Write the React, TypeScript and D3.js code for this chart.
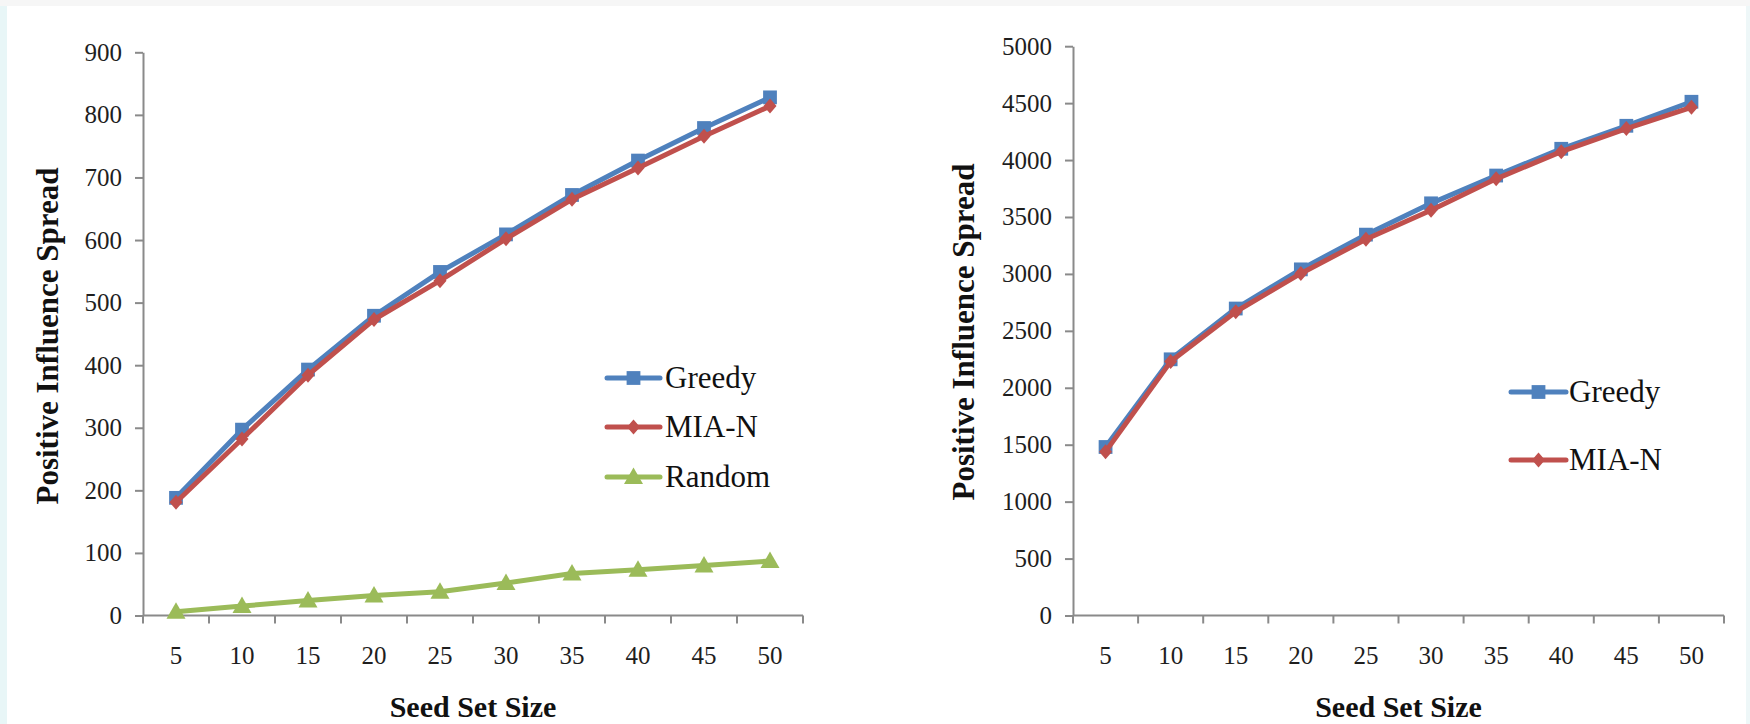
import { useEffect, useRef } from "react";
import * as d3 from "d3";

// seed set sizes (x categories)
const seedSizes = ["5", "10", "15", "20", "25", "30", "35", "40", "45", "50"];

// left panel values
const greedyLeft = [188, 297, 393, 479, 549, 609, 672, 727, 779, 828];
const miaLeft = [181, 282, 384, 473, 535, 602, 665, 715, 766, 814];
const randomLeft = [6, 15, 24, 32, 38, 52, 67, 73, 80, 87];
const leftTicks = [0, 100, 200, 300, 400, 500, 600, 700, 800, 900];

// right panel values
const greedyRight = [1480, 2250, 2696, 3040, 3345, 3620, 3864, 4099, 4301, 4512];
const miaRight = [1439, 2230, 2668, 3004, 3304, 3559, 3835, 4074, 4277, 4463];
const rightTicks = [0, 500, 1000, 1500, 2000, 2500, 3000, 3500, 4000, 4500, 5000];

type Series = { name: string; values: number[]; color: string; marker: "square" | "diamond" | "triangle" };

interface PanelSpec {
  series: Series[];
  ticks: number[];
  xRange: [number, number];
  yRange: [number, number];
  yTitleX: number;
  yTitleY: number;
  legend: { lineX0: number; lineX1: number; textX: number; ys: number[] };
}

const BLUE = "#4f81bd";
const RED = "#c0504d";
const GREEN = "#9bbb59";
const SERIF = "'Liberation Serif', 'Times New Roman', serif";

const panels: PanelSpec[] = [
  {
    series: [
      { name: "Greedy", values: greedyLeft, color: BLUE, marker: "square" },
      { name: "MIA-N", values: miaLeft, color: RED, marker: "diamond" },
      { name: "Random", values: randomLeft, color: GREEN, marker: "triangle" },
    ],
    ticks: leftTicks,
    xRange: [143, 803],
    yRange: [615.5, 52.3],
    yTitleX: 47,
    yTitleY: 336,
    legend: { lineX0: 607, lineX1: 660, textX: 665, ys: [378, 427, 477] },
  },
  {
    series: [
      { name: "Greedy", values: greedyRight, color: BLUE, marker: "square" },
      { name: "MIA-N", values: miaRight, color: RED, marker: "diamond" },
    ],
    ticks: rightTicks,
    xRange: [1073, 1724],
    yRange: [615.5, 46.2],
    yTitleX: 963,
    yTitleY: 332,
    legend: { lineX0: 1511, lineX1: 1566, textX: 1569, ys: [392, 460] },
  },
];

function markerPath(kind: string) {
  if (kind === "square") return d3.symbol(d3.symbolSquare, 190)();
  if (kind === "diamond") return "M0,-7.5L6.5,0L0,7.5L-6.5,0Z";
  return "M0,-9.5L9.5,7L-9.5,7Z";
}

export default function App() {
  const svgRef = useRef<SVGSVGElement>(null);

  useEffect(() => {
    if (!svgRef.current) return;
    const svg = d3.select(svgRef.current);
    svg.selectAll("*").remove();

    // page background bits
    svg.append("rect").attr("width", 1750).attr("height", 724).attr("fill", "#ffffff");
    svg.append("rect").attr("width", 1750).attr("height", 6).attr("fill", "#f6f6f6");
    svg.append("rect").attr("y", 6).attr("width", 7).attr("height", 718).attr("fill", "#e8f6f7");
    svg.append("rect").attr("x", 1746).attr("y", 6).attr("width", 4).attr("height", 718).attr("fill", "#eef7f8");

    panels.forEach((p) => {
      const x = d3.scaleBand().domain(seedSizes).range(p.xRange).padding(0);
      const y = d3
        .scaleLinear()
        .domain([p.ticks[0], p.ticks[p.ticks.length - 1]])
        .range(p.yRange);
      const g = svg.append("g");

      // y axis
      const yAxis = g
        .append("g")
        .attr("transform", `translate(${p.xRange[0]},0)`)
        .call(
          d3
            .axisLeft(y)
            .tickValues(p.ticks)
            .tickFormat(d3.format("d"))
            .tickSize(8)
            .tickPadding(13)
            .tickSizeOuter(0)
        );
      yAxis.select(".domain").attr("stroke", "#8a8a8a").attr("stroke-width", 2);
      yAxis.selectAll(".tick line").attr("stroke", "#8a8a8a").attr("stroke-width", 2);
      yAxis
        .selectAll(".tick text")
        .attr("font-family", SERIF)
        .attr("font-size", 25)
        .attr("fill", "#1e1e1e");

      // x axis: ticks on band boundaries
      const base = y(0);
      g.append("line")
        .attr("x1", p.xRange[0])
        .attr("x2", p.xRange[1])
        .attr("y1", base)
        .attr("y2", base)
        .attr("stroke", "#8a8a8a")
        .attr("stroke-width", 2);
      const bounds = seedSizes.map((c) => x(c)!).concat([p.xRange[1]]);
      g.selectAll(".xt")
        .data(bounds)
        .enter()
        .append("line")
        .attr("x1", (d) => d)
        .attr("x2", (d) => d)
        .attr("y1", base)
        .attr("y2", base + 8)
        .attr("stroke", "#8a8a8a")
        .attr("stroke-width", 2);
      g.selectAll(".xl")
        .data(seedSizes)
        .enter()
        .append("text")
        .attr("x", (d) => x(d)! + x.bandwidth() / 2)
        .attr("y", 655)
        .attr("dy", "0.35em")
        .attr("text-anchor", "middle")
        .attr("font-family", SERIF)
        .attr("font-size", 25)
        .attr("fill", "#1e1e1e")
        .text((d) => d);

      // titles
      g.append("text")
        .attr("x", (p.xRange[0] + p.xRange[1]) / 2)
        .attr("y", 717)
        .attr("text-anchor", "middle")
        .attr("font-family", SERIF)
        .attr("font-weight", "bold")
        .attr("font-size", 30)
        .attr("fill", "#111")
        .text("Seed Set Size");
      g.append("text")
        .attr("transform", `translate(${p.yTitleX},${p.yTitleY}) rotate(-90)`)
        .attr("text-anchor", "middle")
        .attr("dy", "0.35em")
        .attr("font-family", SERIF)
        .attr("font-weight", "bold")
        .attr("font-size", 31)
        .attr("fill", "#111")
        .text("Positive Influence Spread");

      // series
      const line = d3
        .line<number>()
        .x((_, i) => x(seedSizes[i])! + x.bandwidth() / 2)
        .y((d) => y(d));
      p.series.forEach((s) => {
        g.append("path")
          .attr("d", line(s.values))
          .attr("fill", "none")
          .attr("stroke", s.color)
          .attr("stroke-width", 5)
          .attr("stroke-linejoin", "round");
        g.selectAll(null)
          .data(s.values)
          .enter()
          .append("path")
          .attr("d", markerPath(s.marker))
          .attr("transform", (d, i) => `translate(${x(seedSizes[i])! + x.bandwidth() / 2},${y(d)})`)
          .attr("fill", s.color);
      });

      // legend
      p.series.forEach((s, i) => {
        const ly = p.legend.ys[i];
        g.append("line")
          .attr("x1", p.legend.lineX0)
          .attr("x2", p.legend.lineX1)
          .attr("y1", ly)
          .attr("y2", ly)
          .attr("stroke", s.color)
          .attr("stroke-width", 5)
          .attr("stroke-linecap", "round");
        g.append("path")
          .attr("d", markerPath(s.marker))
          .attr("transform", `translate(${(p.legend.lineX0 + p.legend.lineX1) / 2},${ly})`)
          .attr("fill", s.color);
        g.append("text")
          .attr("x", p.legend.textX)
          .attr("y", ly)
          .attr("dy", "0.33em")
          .attr("font-family", SERIF)
          .attr("font-size", 31)
          .attr("fill", "#111")
          .text(s.name);
      });
    });
  }, []);

  return (
    <div style={{ position: "absolute", left: 0, top: 0 }}>
      <svg ref={svgRef} width={1750} height={724} style={{ display: "block" }} />
    </div>
  );
}
